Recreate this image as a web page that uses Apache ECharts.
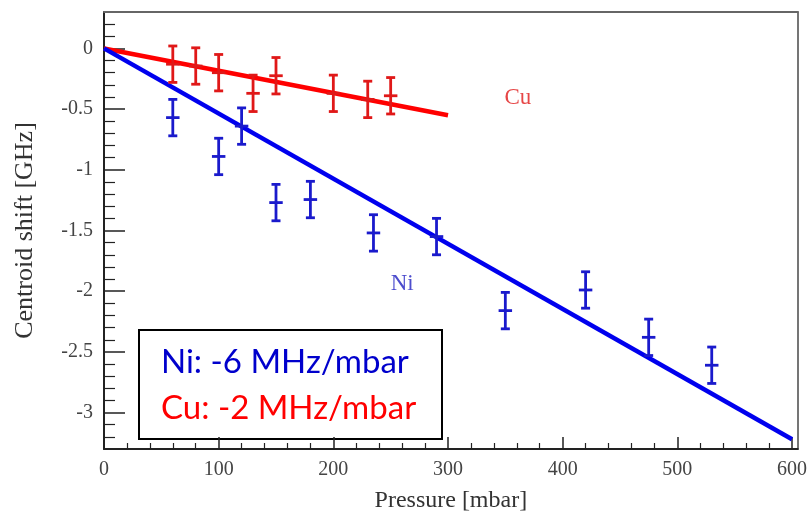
<!DOCTYPE html>
<html><head><meta charset="utf-8">
<script src="https://cdn.jsdelivr.net/npm/echarts@6/dist/echarts.min.js"></script>
<style>html,body{margin:0;padding:0;background:#fff}#c{width:810px;height:518px}</style>
</head><body><div id="c"></div>
<script>
// ---- data ----
const niPressure = [60, 100, 120, 150, 180, 235, 290, 350, 420, 475, 530];
const niShift    = [-0.57, -0.89, -0.64, -1.27, -1.245, -1.52, -1.55, -2.16, -1.99, -2.38, -2.61];
const niShiftErr = [0.15, 0.15, 0.15, 0.15, 0.15, 0.15, 0.15, 0.15, 0.15, 0.15, 0.15];
const cuPressure = [60, 80, 100, 130, 150, 200, 230, 250];
const cuShift    = [-0.13, -0.145, -0.20, -0.37, -0.225, -0.37, -0.42, -0.39];
const cuShiftErr = [0.15, 0.15, 0.15, 0.15, 0.15, 0.15, 0.15, 0.15];
const pressureErr = 5;
const niFitX = [0, 600];
const niFitY = [0, -3.22];
const cuFitX = [0, 300];
const cuFitY = [0, -0.55];
const annotNames = ['Cu', 'Ni'];
const annotX = [361, 260];
const annotY = [-0.41, -1.94];
const xMajorTicks = [0, 100, 200, 300, 400, 500, 600];
const xMinorTicks = [20, 40, 60, 80, 120, 140, 160, 180, 220, 240, 260, 280, 320, 340, 360, 380,
                     420, 440, 460, 480, 520, 540, 560, 580];
const yMajorTicks = [-3, -2.5, -2, -1.5, -1, -0.5, 0];
const yMinorTicks = [-3.2, -3.1, -2.9, -2.8, -2.7, -2.6, -2.4, -2.3, -2.2, -2.1, -1.9, -1.8, -1.7, -1.6,
                     -1.4, -1.3, -1.2, -1.1, -0.9, -0.8, -0.7, -0.6, -0.4, -0.3, -0.2, -0.1, 0.1, 0.2];
const boxLines = ['Ni: -6 MHz/mbar', 'Cu: -2 MHz/mbar'];

const X_MIN = 0, X_MAX = 605, Y_MIN = -3.3, Y_MAX = 0.3;
const serif = '"Liberation Serif", "DejaVu Serif", serif';
const BLUE = '#0000ee', RED = '#ff0000';

function zipErr(xs, ys, es) { return xs.map((x, i) => [x, ys[i], es[i], pressureErr]); }
function zip(xs, ys) { return xs.map((x, i) => [x, ys[i]]); }

function errRenderer(color) {
  return function (params, api) {
    const x = api.value(0), y = api.value(1), ey = api.value(2), ex = api.value(3);
    const c = api.coord([x, y]);
    const top = api.coord([x, y + ey]);
    const bot = api.coord([x, y - ey]);
    const l = api.coord([x - ex, y]);
    const r = api.coord([x + ex, y]);
    const cap = 4.5;
    const st = { stroke: color, lineWidth: 2.8 };
    return {
      type: 'group', children: [
        { type: 'line', shape: { x1: c[0], y1: top[1], x2: c[0], y2: bot[1] }, style: st },
        { type: 'line', shape: { x1: l[0] - 1, y1: c[1], x2: r[0] + 1, y2: c[1] }, style: st },
        { type: 'line', shape: { x1: c[0] - cap, y1: top[1], x2: c[0] + cap, y2: top[1] }, style: st },
        { type: 'line', shape: { x1: c[0] - cap, y1: bot[1], x2: c[0] + cap, y2: bot[1] }, style: st }
      ]
    };
  };
}

const chart = echarts.init(document.getElementById('c'), null, { renderer: 'canvas' });
const baseX = { type: 'value', min: X_MIN, max: X_MAX, position: 'bottom', splitLine: { show: false } };
const baseY = { type: 'value', min: Y_MIN, max: Y_MAX, position: 'left', splitLine: { show: false } };
const frameLine = { show: true, onZero: false, lineStyle: { color: '#666', width: 1.8 } };

chart.setOption({
  animation: false,
  backgroundColor: '#fff',
  grid: { left: 104, top: 12, right: 5, bottom: 66 },
  xAxis: [
    Object.assign({}, baseX, {
      name: 'Pressure [mbar]', nameLocation: 'middle', nameGap: 40,
      nameTextStyle: { fontFamily: serif, fontSize: 24, color: '#333' },
      axisLine: { show: true, onZero: false, lineStyle: { color: '#222', width: 2 } },
      axisTick: { show: true, inside: true, length: 12, customValues: xMajorTicks, lineStyle: { color: '#222', width: 1.5 } },
      axisLabel: { show: true, customValues: xMajorTicks, margin: 11, fontFamily: serif, fontSize: 20, color: '#444' }
    }),
    Object.assign({}, baseX, {
      axisLine: { show: false, onZero: false },
      axisTick: { show: true, inside: true, length: 6, customValues: xMinorTicks, lineStyle: { color: '#222', width: 1.2 } },
      axisLabel: { show: false }
    }),
    Object.assign({}, baseX, {
      position: 'top', axisLine: frameLine, axisTick: { show: false }, axisLabel: { show: false }
    })
  ],
  yAxis: [
    Object.assign({}, baseY, {
      name: 'Centroid shift [GHz]', nameLocation: 'middle', nameGap: 66, nameRotate: 90,
      nameTextStyle: { fontFamily: serif, fontSize: 26, color: '#333' },
      axisLine: { show: true, onZero: false, lineStyle: { color: '#222', width: 2 } },
      axisTick: { show: true, inside: true, length: 21, customValues: yMajorTicks, lineStyle: { color: '#222', width: 1.5 } },
      axisLabel: { show: true, customValues: yMajorTicks, margin: 11, fontFamily: serif, fontSize: 20, color: '#444' }
    }),
    Object.assign({}, baseY, {
      axisLine: { show: false, onZero: false },
      axisTick: { show: true, inside: true, length: 11, customValues: yMinorTicks, lineStyle: { color: '#222', width: 1.2 } },
      axisLabel: { show: false }
    }),
    Object.assign({}, baseY, {
      position: 'right', axisLine: frameLine, axisTick: { show: false }, axisLabel: { show: false }
    })
  ],
  series: [
    { type: 'line', data: zip(cuFitX, cuFitY), showSymbol: false, lineStyle: { color: RED, width: 4.5 }, z: 2 },
    { type: 'line', data: zip(niFitX, niFitY), showSymbol: false, lineStyle: { color: BLUE, width: 4.5 }, z: 2 },
    { type: 'custom', data: zipErr(cuPressure, cuShift, cuShiftErr), renderItem: errRenderer('#e01818'), z: 3 },
    { type: 'custom', data: zipErr(niPressure, niShift, niShiftErr), renderItem: errRenderer('#1a1acc'), z: 3 },
    {
      type: 'scatter', symbolSize: 0, z: 4,
      data: annotNames.map((n, i) => ({ value: [annotX[i], annotY[i]], name: n,
        label: { color: n === 'Cu' ? '#e01818' : '#2020c0' } })),
      label: { show: true, position: 'inside', formatter: p => p.name, fontFamily: serif, fontSize: 23 }
    }
  ],
  graphic: [
    {
      type: 'group', left: 138, top: 329, z: 100,
      children: [
        { type: 'rect', shape: { x: 0, y: 0, width: 303, height: 109 }, style: { fill: '#fff', stroke: '#000', lineWidth: 2 } },
        { type: 'text', x: 22, y: 32, style: { text: boxLines[0], fill: '#0000cc', font: '33px Lato, "Noto Sans", sans-serif', textVerticalAlign: 'middle' } },
        { type: 'text', x: 22, y: 78, style: { text: boxLines[1], fill: '#ff0000', font: '33px Lato, "Noto Sans", sans-serif', textVerticalAlign: 'middle' } }
      ]
    }
  ]
});
</script></body></html>
